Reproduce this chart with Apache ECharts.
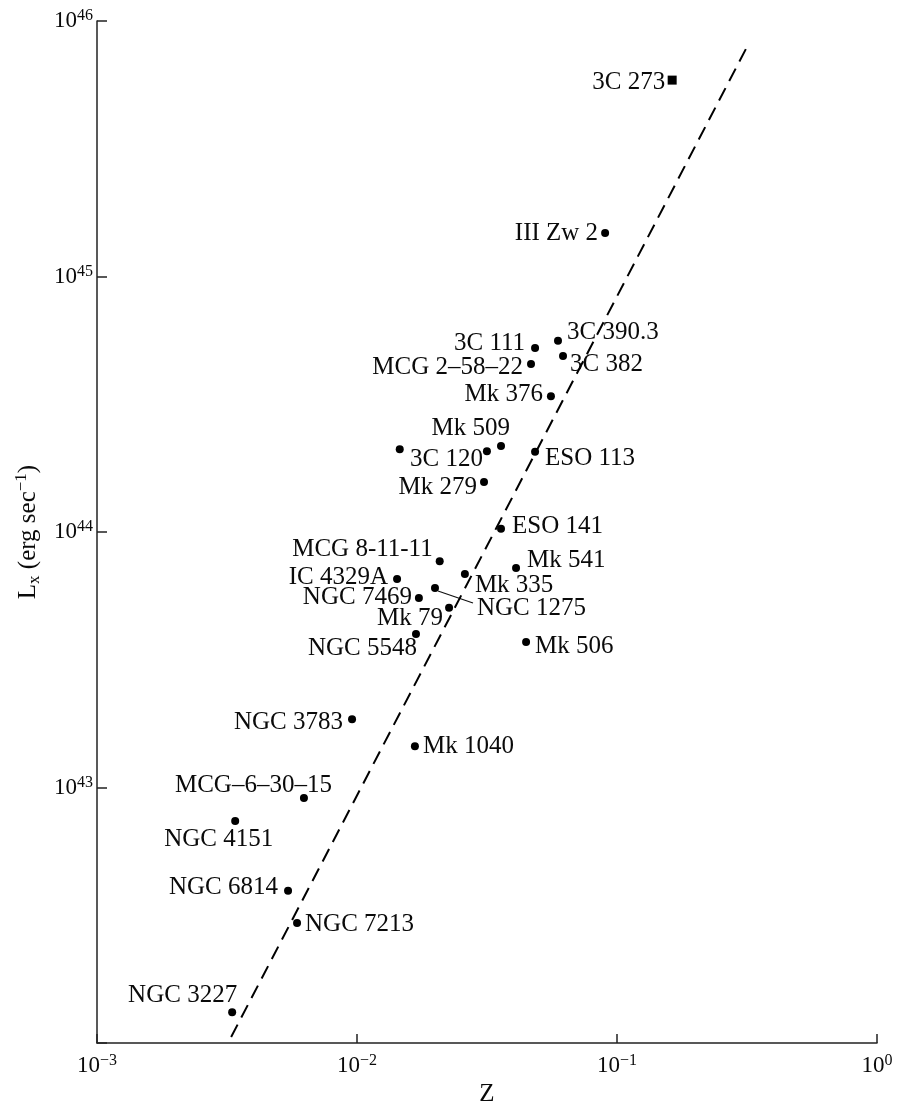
<!DOCTYPE html>
<html><head><meta charset="utf-8">
<script src="https://cdn.jsdelivr.net/npm/echarts@6/dist/echarts.min.js"></script>
<style>html,body{margin:0;padding:0;background:#fff}#c{width:908px;height:1107px}</style>
</head><body><div id="c"></div>
<script>
// ---- data ----
const galaxyNames = ['III Zw 2','3C 390.3','3C 111','3C 382','MCG 2–58–22','Mk 376','Mk 509','3C 120','',
  'ESO 113','Mk 279','ESO 141','MCG 8-11-11','IC 4329A','Mk 335','Mk 541','NGC 1275','NGC 7469','Mk 79',
  'NGC 5548','Mk 506','NGC 3783','Mk 1040','MCG–6–30–15','NGC 4151','NGC 6814','NGC 7213','NGC 3227'];
const galaxyZ = [0.0900,0.0593,0.0484,0.0620,0.0467,0.0557,0.0358,0.0316,0.0146,
  0.0484,0.0308,0.0358,0.0208,0.01426,0.0260,0.0409,0.01995,0.0173,0.0226,
  0.01686,0.0447,0.00957,0.0167,0.00625,0.00340,0.00543,0.00588,0.00331];
const galaxyLx = [1.48e45,5.60e44,5.25e44,4.89e44,4.55e44,3.40e44,2.17e44,2.07e44,2.11e44,
  2.06e44,1.57e44,1.03e44,7.69e43,6.55e43,6.85e43,7.23e43,6.04e43,5.52e43,5.05e43,
  3.99e43,3.71e43,1.85e43,1.45e43,9.09e42,7.39e42,3.94e42,2.95e42,1.32e42];
const quasarNames = ['3C 273'];
const quasarZ = [0.163];
const quasarLx = [5.87e45];
const fitZ = [0.00328, 0.316];
const fitLx = [1.055e42, 7.91e45];
const xTickExponents = [-3,-2,-1,0];
const yTickExponents = [43,44,45,46];
const xAxisTitle = 'Z';

// ---- label placement (style, not data): [align, dx, dy] ----
const labelPlace = {
  '3C 273':['right',-7,2], 'III Zw 2':['right',-7,0], '3C 390.3':['left',9,-8], '3C 111':['right',-10,-5],
  '3C 382':['left',7,9], 'MCG 2–58–22':['right',-8,4], 'Mk 376':['right',-8,-2], 'Mk 509':['right',9,-18],
  '3C 120':['right',-4,8], 'ESO 113':['left',10,7], 'Mk 279':['right',-7,5], 'ESO 141':['left',11,-2],
  'MCG 8-11-11':['right',-7,-12], 'IC 4329A':['right',-9,-2], 'Mk 335':['left',10,11], 'Mk 541':['left',11,-8],
  'NGC 1275':['left',42,20], 'NGC 7469':['right',-7,0], 'Mk 79':['right',-6,11], 'NGC 5548':['right',1,14],
  'Mk 506':['left',9,4], 'NGC 3783':['right',-9,3], 'Mk 1040':['left',8,0], 'MCG–6–30–15':['right',28,-13],
  'NGC 4151':['right',38,18], 'NGC 6814':['right',-10,-3], 'NGC 7213':['left',8,1], 'NGC 3227':['right',5,-17]
};

const FONT = 'Liberation Serif';
const INK = '#0a0a0a';
function supText(e){ return String(e).replace('-','−'); }
function mkPoint(name, z, l){
  const p = {name: name, value:[z,l]};
  const pl = labelPlace[name];
  if (name && pl) {
    p.label = {show:true, position:'inside', align:pl[0], verticalAlign:'middle', offset:[pl[1],pl[2]],
      formatter: name, color: INK, fontFamily: FONT, fontSize: 25};
  }
  return p;
}
const galaxyData = galaxyNames.map((n,i)=>mkPoint(n, galaxyZ[i], galaxyLx[i]));
const quasarData = quasarNames.map((n,i)=>mkPoint(n, quasarZ[i], quasarLx[i]));
const fitData = fitZ.map((z,i)=>[z, fitLx[i]]);

const chart = echarts.init(document.getElementById('c'), null, {renderer:'canvas'});
const axisLineStyle = {color:'#222', width:1.5};
chart.setOption({
  animation:false,
  backgroundColor:'#fff',
  grid:{left:97, top:21, width:780, height:1022, containLabel:false, outerBoundsMode:'none'},
  xAxis:{
    type:'log', logBase:10, min:0.001, max:1,
    name: xAxisTitle, nameLocation:'middle', nameGap:38,
    nameTextStyle:{fontFamily:FONT, fontSize:25, color:INK},
    axisLine:{show:true, lineStyle:axisLineStyle},
    axisTick:{show:true, inside:true, length:9, lineStyle:axisLineStyle},
    minorTick:{show:false}, splitLine:{show:false},
    axisLabel:{margin:10, color:INK,
      formatter:function(v){ const e=Math.round(Math.log10(v)); return xTickExponents.includes(e)?('{b|10}{s|'+supText(e)+'}'):''; },
      rich:{b:{fontFamily:FONT, fontSize:23, lineHeight:26, color:INK},
            s:{fontFamily:FONT, fontSize:16, lineHeight:14, verticalAlign:'top', color:INK}}}
  },
  yAxis:{
    type:'log', logBase:10, min:1e42, max:1e46,
    name:'{a|L}{sub|x}{a| (erg sec}{sup|−1}{a|)}', nameLocation:'middle', nameGap:54,
    nameTextStyle:{rich:{a:{fontFamily:FONT, fontSize:25, lineHeight:30, color:INK},
      sub:{fontFamily:FONT, fontSize:17, lineHeight:20, verticalAlign:'bottom', color:INK},
      sup:{fontFamily:FONT, fontSize:17, lineHeight:17, verticalAlign:'top', color:INK}}},
    axisLine:{show:true, lineStyle:axisLineStyle},
    axisTick:{show:true, inside:true, length:10, lineStyle:axisLineStyle},
    minorTick:{show:false}, splitLine:{show:false},
    axisLabel:{margin:4, color:INK,
      formatter:function(v){ const e=Math.round(Math.log10(v)); return yTickExponents.includes(e)?('{b|10}{s|'+supText(e)+'}'):''; },
      rich:{b:{fontFamily:FONT, fontSize:23, lineHeight:26, color:INK},
            s:{fontFamily:FONT, fontSize:16, lineHeight:14, verticalAlign:'top', color:INK}}}
  },
  series:[
    {type:'line', data:fitData, symbol:'none', silent:true,
     lineStyle:{color:'#000', width:2, type:[14,8]}},
    {type:'scatter', data:galaxyData, symbol:'circle', symbolSize:8, silent:true,
     itemStyle:{color:'#000', opacity:1}},
    {type:'scatter', data:quasarData, symbol:'rect', symbolSize:9, silent:true,
     itemStyle:{color:'#000', opacity:1}}
  ]
});

// leader line for NGC 1275, anchored on its data point
const iLead = galaxyNames.indexOf('NGC 1275');
const pp = chart.convertToPixel({gridIndex:0}, [galaxyZ[iLead], galaxyLx[iLead]]);
chart.setOption({graphic:[{type:'line', silent:true,
  shape:{x1:pp[0]+3, y1:pp[1]+3, x2:pp[0]+38, y2:pp[1]+15},
  style:{stroke:'#111', lineWidth:1.2}}]});
</script></body></html>
